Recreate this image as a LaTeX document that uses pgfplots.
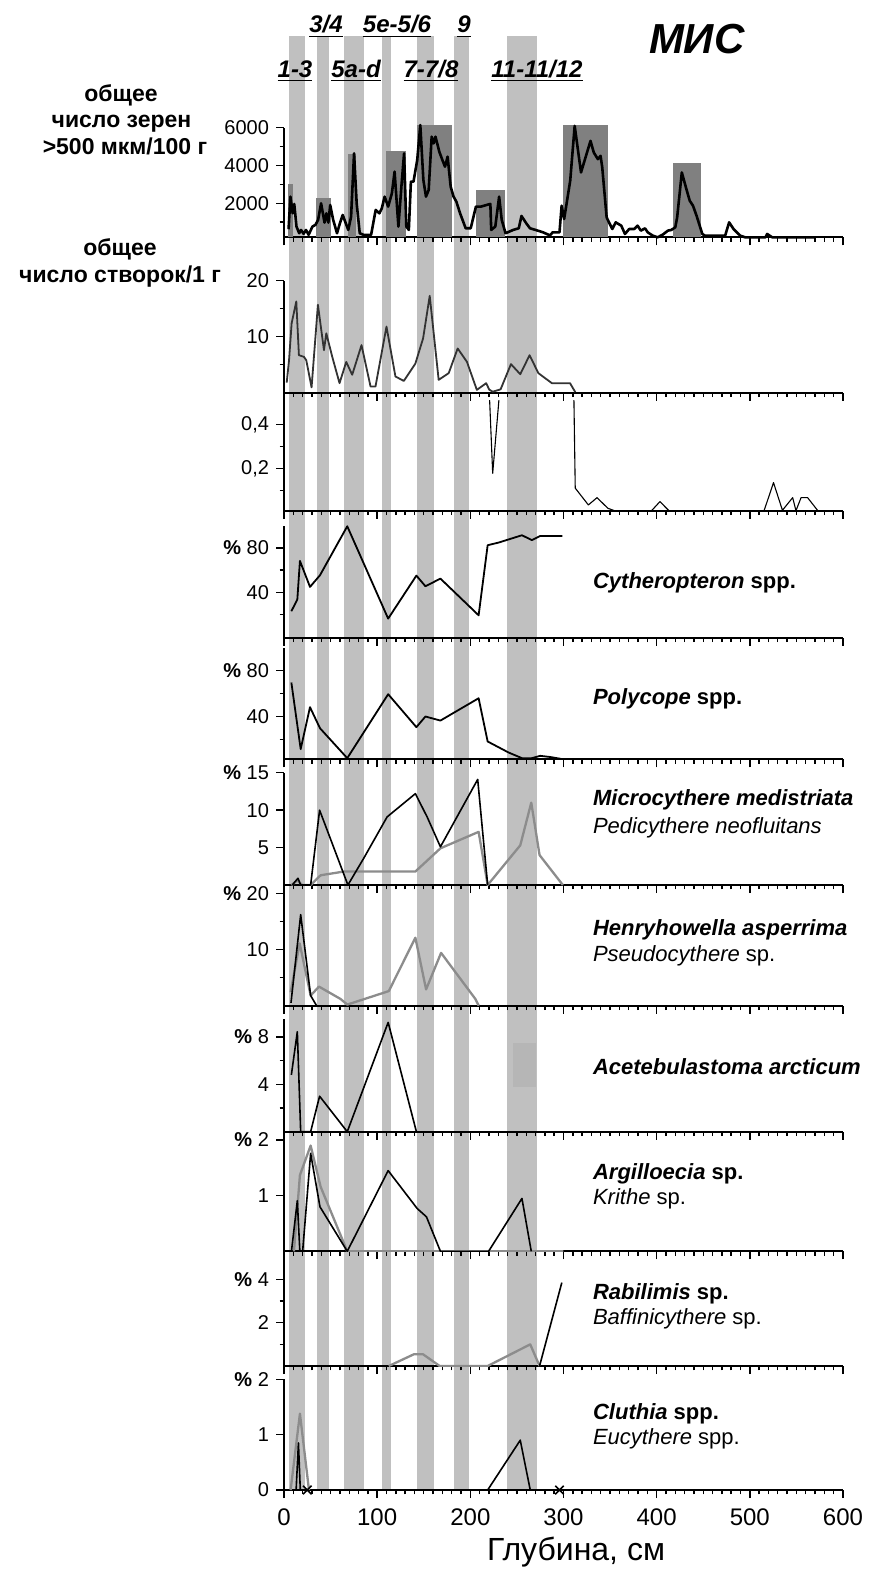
\documentclass[border=0pt]{standalone}
\usepackage{fontspec}
\setmainfont{Liberation Sans}
\usepackage{pgfplots}
\pgfplotsset{compat=1.18}

\definecolor{band}{HTML}{C0C0C0}
\definecolor{boxg}{HTML}{808080}
\definecolor{gline}{HTML}{8C8C8C}
\definecolor{blob}{HTML}{B6B6B6}

\pgfplotsset{
  panel/.style={
    scale only axis, width=279.5pt, xmin=0, xmax=600,
    axis x line*=bottom, axis y line*=left,
    axis line style={line width=1pt, black},
    xtick={0,100,...,600}, minor x tick num=9, xticklabels={},
    tick align=outside, major tick length=4pt, minor tick length=2.2pt,
    tick style={black, line width=0.7pt},
    tick label style={font=\fontsize{10}{12}\selectfont},
    /pgf/number format/assume math mode=true,
    anchor=south west,
  },
  bl/.style={black, line width=0.8pt, line join=round},
  gl/.style={gline, line width=1.15pt, line join=round},
}
\newcommand\mis[1]{\textbf{\textit{\underline{#1}}}}

\begin{document}
\begin{tikzpicture}
\path[use as bounding box] (0,0) rectangle (436.5pt,-786.5pt);

% MIS bands behind all panels
\begin{axis}[at={(142pt,-745pt)}, anchor=south west, scale only axis,
  width=279.5pt, height=727pt, xmin=0, xmax=600, ymin=0, ymax=1, hide axis]
  \addplot[draw=none, fill=band] coordinates {(5,0)(5,1)(23,1)(23,0)};
  \addplot[draw=none, fill=band] coordinates {(35,0)(35,1)(48,1)(48,0)};
  \addplot[draw=none, fill=band] coordinates {(64,0)(64,1)(86,1)(86,0)};
  \addplot[draw=none, fill=band] coordinates {(105,0)(105,1)(115,1)(115,0)};
  \addplot[draw=none, fill=band] coordinates {(143,0)(143,1)(161,1)(161,0)};
  \addplot[draw=none, fill=band] coordinates {(182.5,0)(182.5,1)(198.5,1)(198.5,0)};
  \addplot[draw=none, fill=band] coordinates {(239.5,0)(239.5,1)(271.5,1)(271.5,0)};
\end{axis}

% 1: grains >500 mkm
\begin{axis}[panel, at={(142pt,-118.65pt)}, height=54.8pt, ymin=200, ymax=6000,
  ytick={2000,4000,6000}, yticklabels={2000,4000,6000}, minor ytick={1000,3000,5000}, clip=false]
  \addplot[draw=none, fill=boxg] coordinates {(4,200)(4,3000)(10,3000)(10,200)};
  \addplot[draw=none, fill=boxg] coordinates {(34,200)(34,2300)(50,2300)(50,200)};
  \addplot[draw=none, fill=boxg] coordinates {(69,200)(69,4600)(77,4600)(77,200)};
  \addplot[draw=none, fill=boxg] coordinates {(110,200)(110,4750)(131,4750)(131,200)};
  \addplot[draw=none, fill=boxg] coordinates {(143,200)(143,6150)(180,6150)(180,200)};
  \addplot[draw=none, fill=boxg] coordinates {(206,200)(206,2700)(237,2700)(237,200)};
  \addplot[draw=none, fill=boxg] coordinates {(299,200)(299,6150)(348,6150)(348,200)};
  \addplot[draw=none, fill=boxg] coordinates {(417,200)(417,4125)(448,4125)(448,200)};
  \addplot[black, line width=1.3pt, line join=round] coordinates {
    (4.9,626)(6.9,2352)(9.3,1470)(11,1965)(13.4,770)(16.3,415)(18.3,590)(21,380)
    (23.6,590)(26.4,330)(30.5,767)(33.7,855)(36.6,1120)(39.8,2000)(43.5,978)(45.5,1470)
    (47.6,978)(49.6,1912)(52.8,1120)(56.9,414)(60,943)(63,1383)(66.3,943)(69,590)
    (72,1295)(75.2,4643)(78,2000)(81.3,414)(85.4,330)(93.5,330)(98.4,1648)(102.4,1470)
    (105,1735)(108,2352)(111.8,1824)(115.8,2528)(118.7,3674)(122.8,767)(126,2880)
    (128.9,4643)(131.3,767)(134,590)(136.2,3145)(139,3145)(143,4290)(146.3,6140)
    (149.6,3233)(152.4,2352)(155.3,2705)(158.5,5524)(160.6,5170)(162.6,5524)(166.7,4730)
    (170,4290)(172.8,3938)(175.6,4467)(178.9,2880)(182,2352)(185,2088)(189,1470)
    (195,678)(200.4,678)(206,1824)(211.4,1824)(217.5,1912)(221.5,1965)(222.4,590)
    (226.8,767)(230.9,2352)(233.7,1120)(237.8,414)(246,590)(252,678)(254.9,1330)
    (260,943)(264,678)(270,590)(278,464)(285.5,300)(288.4,464)(295.7,464)(298,1872)
    (300.7,1168)(307.2,3192)(312,6096)(318.8,3632)(329,5304)(332.5,4688)(336.9,4336)
    (339.8,4512)(341.6,3896)(346.3,1256)(348.8,992)(352.4,640)(356,992)(362,816)
    (366,376)(370.5,640)(375.9,640)(379.5,816)(383,552)(387.5,675)(390.4,464)
    (395.8,288)(401,200)(406.6,341)(412,552)(415.6,587)(420,728)(422,1256)(427,3632)
    (431.9,2752)(435.5,2136)(439,1872)(442.8,1344)(449,376)(451.8,288)(473.5,288)
    (477.8,992)(482.5,640)(489.7,288)(495,200)(516.8,200)(518.6,376)(524,200)(571,200)};
\end{axis}

% 2: valves per 1 g
\begin{axis}[panel, at={(142pt,-196.35pt)}, height=56pt, ymin=0, ymax=20,
  ytick={10,20}, yticklabels={10,20}, minor ytick={5,15}]
  \addplot[color=black!80, line width=0.9pt, line join=round] coordinates {
    (2.9,1.8)(5.4,5.8)(8.2,12.4)(13.2,16.3)(16,6.7)(21.4,6.4)(23.9,5.8)(29.6,0.95)
    (36.4,15.7)(42.9,7.6)(45.4,10.6)(51.8,6.4)(59.6,1.7)(66.8,5.5)(73.2,3.2)(83.2,8.5)
    (92.9,1.1)(98.2,1.1)(110,11.8)(119.6,2.9)(128.6,2.1)(141,5.2)(149.3,9.7)(156.4,17.3)
    (166,2.3)(176.8,3.5)(186.4,7.9)(196.4,5.5)(207,0.5)(217,1.7)(220.3,0.55)(224,0.179)
    (232.5,0.6)(243.6,5.1)(253.6,3.3)(263.6,6.7)(273,3.5)(287.5,1.7)(307,1.7)(312.6,0.112)};
\end{axis}

% 3: valves per 1 g, low values
\begin{axis}[panel, at={(142pt,-255.35pt)}, height=55pt, ymin=0.01, ymax=0.507,
  ytick={0.2,0.4}, yticklabels={{0,2},{0,4}}, minor ytick={0.1,0.3}]
  \addplot[black, line width=0.55pt, line join=round] coordinates {
    (217,1.7)(220.3,0.55)(224,0.179)(232.5,0.6)(243.6,5.1)
    (287.5,1.7)(307,1.7)(312.6,0.112)(326.7,0.036)(336,0.069)(347.6,0.021)(354.8,0.01)
    (394.5,0.01)(403.5,0.051)(413.2,0.01)(515.3,0.01)(525.4,0.137)(535,0.012)
    (546,0.069)(549.5,0.01)(555,0.069)(562,0.069)(573,0.01)};
\end{axis}

% 4: Cytheropteron
\begin{axis}[panel, at={(142pt,-318.85pt)}, height=56pt, ymin=-1, ymax=100,
  ytick={40,80}, yticklabels={40,{\textbf{\%} 80}}, minor ytick={20,60}]
  \addplot[bl, line width=0.9pt] coordinates {
    (7.9,22.9)(14.3,33.4)(17.1,68.3)(27.9,44.8)(38.6,55.3)(67.9,99.5)(111.8,16.2)
    (142.1,55)(151.8,45.4)(167.9,52.3)(208.9,19.2)(218.6,82.4)(230.4,84.8)(255.4,91.4)
    (266,87)(275,90.8)(298.9,90.8)};
\end{axis}

% 5: Polycope
\begin{axis}[panel, at={(142pt,-379.65pt)}, height=55.5pt, ymin=3, ymax=99,
  ytick={40,80}, yticklabels={40,{\textbf{\%} 80}}, minor ytick={20,60}]
  \addplot[bl, line width=0.9pt] coordinates {
    (7.9,69.4)(17.9,11.8)(27.9,48.1)(38.6,29.9)(67.9,4)(111.8,59.3)(142.1,30.8)
    (151.8,40)(167.9,36.5)(208.9,55.8)(218.6,18.4)(241,8.9)(255.4,4)(266,4)(275,6)
    (285.7,5)(300,3)};
\end{axis}

% 6: Microcythere medistriata / Pedicythere neofluitans
\begin{axis}[panel, at={(142pt,-442.5pt)}, height=56.15pt, ymin=0, ymax=15,
  ytick={5,10,15}, yticklabels={5,10,{\textbf{\%} 15}}]
  \addplot[gl] coordinates {
    (7.9,0)(14.3,0.6)(19.6,0)(28.6,0)(39.3,1.3)(64.3,1.8)(141,1.8)(167.9,4.9)
    (208.9,7.1)(218.6,0)(253.6,5.3)(265.4,11)(274.3,4)(299.3,0)};
  \addplot[bl] coordinates {
    (8.9,0)(15,0.9)(17.9,0)(28.6,0)(38.2,10)(68.6,0)(85.7,3.6)(110.7,9.1)(141,12.2)
    (153.6,9.1)(167.9,5.1)(207.9,14.1)(218.6,0)};
\end{axis}

% 7: Henryhowella asperrima / Pseudocythere
\begin{axis}[panel, at={(142pt,-502.85pt)}, height=56.2pt, ymin=0, ymax=20,
  ytick={10,20}, yticklabels={10,{\textbf{\%} 20}}, minor ytick={5,15}]
  \addplot[gl] coordinates {
    (7.1,2.4)(16.8,11.1)(28.6,1.8)(37.5,3.4)(60.7,1.2)(67.9,0.2)(112.5,2.6)(141,12.1)
    (152.5,2.9)(168.6,9.4)(205.4,1.2)(209,0)};
  \addplot[bl] coordinates {(7.5,0.5)(17.9,16.2)(28.6,1.8)(35,0)};
\end{axis}

% 8: Acetebulastoma arcticum
\begin{axis}[panel, at={(142pt,-565.85pt)}, height=56.2pt, ymin=0, ymax=9.5,
  ytick={4,8}, yticklabels={4,{\textbf{\%} 8}}, minor ytick={2,6}]
  \addplot[draw=none, fill=blob] coordinates {(246,3.8)(246,7.5)(271,7.5)(271,3.8)};
  \addplot[bl] coordinates {
    (7.9,4.8)(14.3,8.45)(17.9,0)(28.6,0)(38.2,3)(67.9,0)(111.8,9.24)(142.1,0)};
\end{axis}

% 9: Argilloecia / Krithe
\begin{axis}[panel, at={(142pt,-625.65pt)}, height=55.65pt, ymin=0, ymax=2,
  ytick={1,2}, yticklabels={1,{\textbf{\%} 2}}]
  \addplot[gl] coordinates {(10.7,0)(17.1,1.37)(28.6,1.9)(39.3,1.16)(67.9,0)(300,0)};
  \addplot[bl] coordinates {
    (8,0)(14.3,0.91)(17,0)(20,0)(28.6,1.76)(38.6,0.8)(67.9,0)(111.8,1.45)(142.9,0.77)
    (152.9,0.62)(167.9,0)(219.6,0)(255.4,0.95)(265.4,0)};
\end{axis}

% 10: Rabilimis / Baffinicythere
\begin{axis}[panel, at={(142pt,-683pt)}, height=54.15pt, ymin=0, ymax=5,
  ytick={2,4}, yticklabels={2,{\textbf{\%} 4}}, minor ytick={1,3}]
  \addplot[gl] coordinates {
    (112.5,0)(139.3,0.54)(149.3,0.54)(167.1,0)(218.6,0)(264.3,1.0)(274.3,0)};
  \addplot[bl] coordinates {(274.3,0)(298.2,3.85)};
\end{axis}

% 11: Cluthia / Eucythere
\begin{axis}[panel, at={(142pt,-745pt)}, height=55.35pt, ymin=0, ymax=2,
  ytick={0,1,2}, yticklabels={0,1,{\textbf{\%} 2}}, clip=false,
  xticklabels={0,100,200,300,400,500,600},
  xticklabel style={font=\fontsize{12}{14}\selectfont, yshift=-2pt}]
  \addplot[gl] coordinates {(7.1,0)(17.1,1.38)(26.8,0)};
  \addplot[bl] coordinates {(13,0)(15.5,0.85)(17.5,0)};
  \addplot[bl] coordinates {(218.6,0)(253.6,0.9)(264.3,0)};
  \addplot[only marks, mark=x, mark size=3pt, black, line width=0.8pt]
    coordinates {(25,0)(295.7,0)};
\end{axis}

% texts
\node[font=\fontsize{16}{18}\selectfont] at (288pt,-776pt) {Глубина, см};

\begin{scope}[every node/.style={anchor=base, font=\fontsize{12}{14}\selectfont}]
  \node at (163pt,-16.5pt) {\mis{3/4}};
  \node at (198.5pt,-16.5pt) {\mis{5e-5/6}};
  \node at (232pt,-16.5pt) {\mis{9}};
  \node at (147.5pt,-38.75pt) {\mis{1-3}};
  \node at (178pt,-38.75pt) {\mis{5a-d}};
  \node at (215.5pt,-38.75pt) {\mis{7-7/8}};
  \node at (268.5pt,-38.75pt) {\mis{11-11/12}};
\end{scope}
\node[anchor=base, font=\fontsize{21}{24}\selectfont] at (348.5pt,-26.7pt) {\textbf{\textit{МИС}}};

\begin{scope}[every node/.style={anchor=base, font=\bfseries\fontsize{11.5}{13}\selectfont}]
  \node at (60.5pt,-50.75pt) {общее};
  \node at (60.75pt,-64pt) {число зерен};
  \node at (62.5pt,-77.5pt) {>500 мкм/100 г};
  \node at (60pt,-128pt) {общее};
  \node[anchor=base east] at (114pt,-141pt) {число створок/1 г};
\end{scope}

\begin{scope}[every node/.style={anchor=base west, font=\fontsize{11}{13}\selectfont}]
  \node at (293pt,-294pt) {\textbf{\textit{Cytheropteron} spp.}};
  \node at (293pt,-352pt) {\textbf{\textit{Polycope} spp.}};
  \node at (293pt,-402.5pt) {\textbf{\textit{Microcythere medistriata}}};
  \node at (293pt,-416.8pt) {\textit{Pedicythere neofluitans}};
  \node at (293pt,-467.5pt) {\textbf{\textit{Henryhowella asperrima}}};
  \node at (293pt,-480.5pt) {\textit{Pseudocythere} sp.};
  \node at (293pt,-537pt) {\textbf{\textit{Acetebulastoma arcticum}}};
  \node at (293pt,-589.5pt) {\textbf{\textit{Argilloecia} sp.}};
  \node at (293pt,-602pt) {\textit{Krithe} sp.};
  \node at (293pt,-649.5pt) {\textbf{\textit{Rabilimis} sp.}};
  \node at (293pt,-662pt) {\textit{Baffinicythere} sp.};
  \node at (293pt,-709.5pt) {\textbf{\textit{Cluthia} spp.}};
  \node at (293pt,-722pt) {\textit{Eucythere} spp.};
\end{scope}
\end{tikzpicture}
\end{document}
